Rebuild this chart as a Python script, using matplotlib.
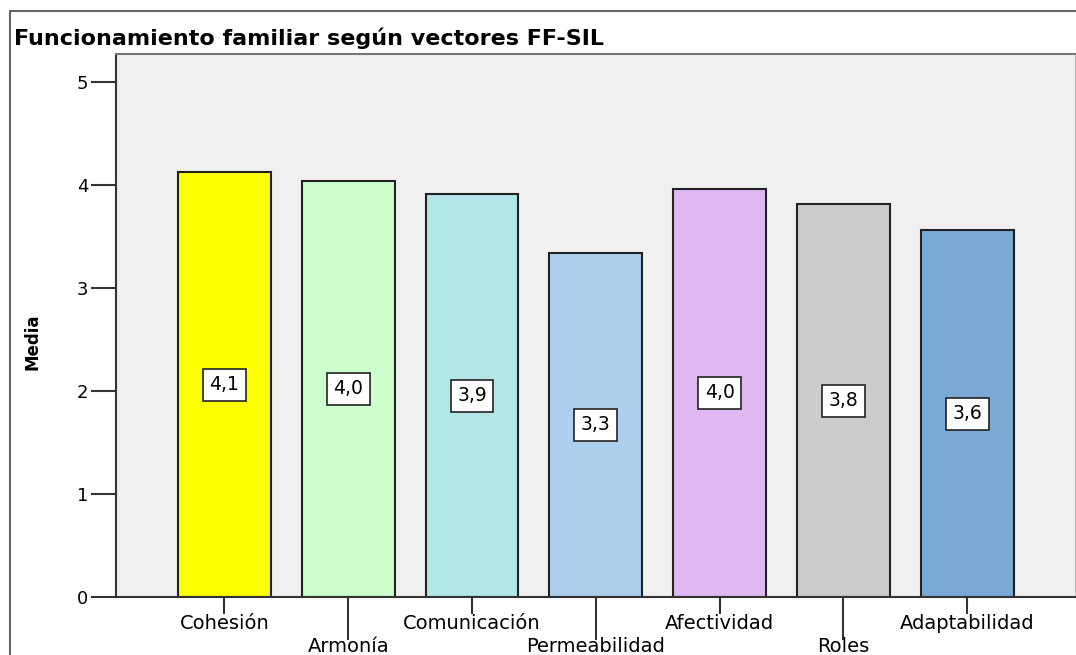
import matplotlib.pyplot as plt
import matplotlib.patches as mpatches
import numpy as np

vectores = ["Cohesión", "Armonía", "Comunicación", "Permeabilidad",
            "Afectividad", "Roles", "Adaptabilidad"]
medias = [4.12, 4.04, 3.91, 3.34, 3.96, 3.81, 3.56]
etiquetas = ["4,1", "4,0", "3,9", "3,3", "4,0", "3,8", "3,6"]
colores = ["#FFFF00", "#CCFFCC", "#B3E6E6", "#ABCFEC",
           "#DFB8F2", "#CCCCCC", "#7AA9D6"]

fig = plt.figure(figsize=(10.76, 6.55), dpi=100)
W, H = 1076, 655

# outer frame of the chart (runs off the right and bottom edges)
fig.patches.append(mpatches.Rectangle((10 / W, -0.1), 1.2, 1 - 11 / H + 0.1,
                                      transform=fig.transFigure, fill=False,
                                      edgecolor="#666666", linewidth=1.5))

fig.text(14 / W, 1 - 38 / H, "Funcionamiento familiar según vectores FF-SIL",
         fontsize=16, fontweight="bold", va="center", ha="left")

ax = fig.add_axes([116 / W, 1 - 597 / H, (1075 - 116) / W, (597 - 54) / H])
ax.set_facecolor("#F0F0F0")

x = np.arange(len(vectores))
ax.bar(x, medias, width=0.75, color=colores, edgecolor="#222222",
       linewidth=1.5, zorder=2)

for xi, m, lab in zip(x, medias, etiquetas):
    ax.text(xi, m / 2, lab, ha="center", va="center", fontsize=13.5, zorder=3,
            bbox=dict(boxstyle="square,pad=0.35", facecolor="white",
                      edgecolor="#222222", linewidth=1.2))

ax.set_xlim(-0.875, 6.87)
ax.set_ylim(0, 5.27)
ax.set_yticks([0, 1, 2, 3, 4, 5])
ax.tick_params(axis="y", labelsize=13, length=18, width=1.5, color="#333333",
               pad=2)

ax.set_xticks(x[::2])
ax.set_xticklabels(vectores[::2])
ax.set_xticks(x[1::2], minor=True)
ax.set_xticklabels(vectores[1::2], minor=True)
ax.tick_params(axis="x", which="major", labelsize=14, length=12, width=1.5,
               color="#333333", pad=0)
ax.tick_params(axis="x", which="minor", labelsize=14, length=31, width=1.5,
               color="#333333", pad=-2)

ax.set_ylabel("Media", fontsize=12, fontweight="bold")
ax.yaxis.set_label_coords(-0.078, 0.47)

for side in ["left", "bottom", "top"]:
    ax.spines[side].set_color("#333333")
    ax.spines[side].set_linewidth(1.5)
ax.spines["top"].set_color("#777777")
ax.spines["right"].set_color("#BBBBBB")

fig.savefig("out.png", dpi=100)
